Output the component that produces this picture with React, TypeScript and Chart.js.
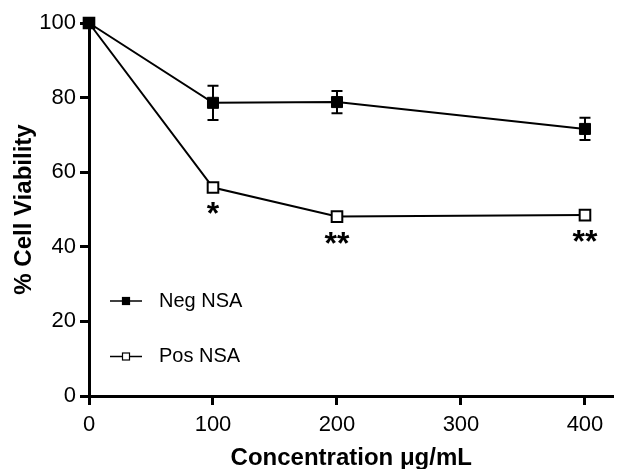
import React, { useEffect, useRef } from 'react';
import { Chart, registerables } from 'chart.js';

Chart.register(...registerables);

const concentrations = [0, 100, 200, 400];
const negLabel = 'Neg NSA';
const posLabel = 'Pos NSA';
const negValues = [100, 78.6, 78.8, 71.6];
const negErrors = [0, 4.6, 3.0, 3.0];
const posValues = [100, 55.9, 48.1, 48.5];
const posErrors = [0, 0, 0, 0];
const posSignificance = ['', '*', '**', '**'];
const xTicks = [0, 100, 200, 300, 400];
const yTicks = [0, 20, 40, 60, 80, 100];
const xTitle = 'Concentration \u03bcg/mL';
const yTitle = '% Cell Viability';

const FONT = "'Liberation Sans', Arial, sans-serif";

const errorBarPlugin = {
  id: 'errorBars',
  afterDatasetsDraw(chart: any) {
    const ctx = chart.ctx;
    const ys = chart.scales.y;
    chart.data.datasets.forEach((ds: any, i: number) => {
      const meta = chart.getDatasetMeta(i);
      const errs: number[] = ds.errors || [];
      meta.data.forEach((pt: any, j: number) => {
        const e = errs[j];
        if (!e) return;
        const v = ds.data[j].y;
        const top = ys.getPixelForValue(v + e);
        const bot = ys.getPixelForValue(v - e);
        const x = pt.x;
        ctx.save();
        ctx.strokeStyle = '#000';
        ctx.lineWidth = 2;
        ctx.beginPath();
        ctx.moveTo(x, top);
        ctx.lineTo(x, bot);
        ctx.moveTo(x - 5.5, top);
        ctx.lineTo(x + 5.5, top);
        ctx.moveTo(x - 5.5, bot);
        ctx.lineTo(x + 5.5, bot);
        ctx.stroke();
        ctx.restore();
      });
    });
  },
};

const significancePlugin = {
  id: 'significance',
  afterDatasetsDraw(chart: any) {
    const ctx = chart.ctx;
    const meta = chart.getDatasetMeta(1);
    ctx.save();
    ctx.fillStyle = '#000';
    ctx.font = `bold 32px ${FONT}`;
    ctx.textAlign = 'center';
    ctx.textBaseline = 'alphabetic';
    meta.data.forEach((pt: any, j: number) => {
      const s = posSignificance[j];
      if (!s) return;
      const m = ctx.measureText(s);
      const asc = m.actualBoundingBoxAscent;
      const desc = m.actualBoundingBoxDescent;
      const centerY = pt.y + 21;
      const baseline = centerY + (asc - desc) / 2;
      ctx.fillText(s, pt.x, baseline);
    });
    ctx.restore();
  },
};

const legendPlugin = {
  id: 'insideLegend',
  afterDraw(chart: any) {
    const ctx = chart.ctx;
    const area = chart.chartArea;
    const x0 = area.left + 21;
    const entries = chart.data.datasets.map((ds: any, i: number) => ({
      label: ds.label,
      fill: ds.pointBackgroundColor,
      y: area.top + 278 + i * 55.5,
    }));
    ctx.save();
    entries.forEach((en: any) => {
      ctx.strokeStyle = '#000';
      ctx.lineWidth = 1.5;
      ctx.beginPath();
      ctx.moveTo(x0, en.y);
      ctx.lineTo(x0 + 32, en.y);
      ctx.stroke();
      const s = 7;
      ctx.fillStyle = en.fill;
      ctx.fillRect(x0 + 16 - s / 2, en.y - s / 2, s, s);
      ctx.lineWidth = 1.2;
      ctx.strokeRect(x0 + 16 - s / 2, en.y - s / 2, s, s);
      ctx.fillStyle = '#000';
      ctx.font = `20px ${FONT}`;
      ctx.textAlign = 'left';
      ctx.textBaseline = 'middle';
      ctx.fillText(en.label, x0 + 49, en.y);
    });
    ctx.restore();
  },
};

export default function App() {
  const ref = useRef<HTMLCanvasElement | null>(null);
  useEffect(() => {
    if (!ref.current) return;
    const chart = new Chart(ref.current, {
      type: 'line',
      data: {
        datasets: [
          {
            label: negLabel,
            data: concentrations.map((c, i) => ({ x: c, y: negValues[i] })),
            errors: negErrors,
            borderColor: '#000',
            borderWidth: 2,
            pointStyle: 'rect',
            pointRadius: 7.8,
            pointBackgroundColor: '#000',
            pointBorderColor: '#000',
            pointBorderWidth: 1,
            clip: false,
            tension: 0,
          } as any,
          {
            label: posLabel,
            data: concentrations.map((c, i) => ({ x: c, y: posValues[i] })),
            errors: posErrors,
            borderColor: '#000',
            borderWidth: 2,
            pointStyle: 'rect',
            pointRadius: 7.5,
            pointBackgroundColor: '#fff',
            pointBorderColor: '#000',
            pointBorderWidth: 2,
            clip: false,
            tension: 0,
          } as any,
        ],
      },
      options: {
        responsive: false,
        animation: false,
        layout: { padding: { top: 23, right: 5, left: 0, bottom: 0 } },
        plugins: {
          legend: { display: false },
          tooltip: { enabled: false },
        },
        scales: {
          x: {
            type: 'linear',
            position: 'bottom',
            min: 0,
            max: 423,
            afterBuildTicks: (s: any) => {
              s.ticks = xTicks.map((v) => ({ value: v }));
            },
            afterFit: (s: any) => {
              s.height = 73;
            },
            ticks: {
              color: '#000',
              font: { family: FONT, size: 22 },
              padding: 7,
              maxRotation: 0,
              autoSkip: false,
            },
            grid: {
              display: true,
              drawOnChartArea: false,
              drawTicks: true,
              tickLength: 9,
              tickWidth: 3,
              tickColor: '#000',
              color: '#000',
            },
            border: { display: true, width: 3, color: '#000' },
            title: {
              display: true,
              text: xTitle,
              color: '#000',
              font: { family: FONT, size: 24, weight: 'bold' },
              padding: { top: 0, bottom: -4 },
            },
          },
          y: {
            type: 'linear',
            min: 0,
            max: 100,
            afterBuildTicks: (s: any) => {
              s.ticks = yTicks.map((v) => ({ value: v }));
            },
            afterFit: (s: any) => {
              s.width = 89;
            },
            ticks: {
              color: '#000',
              font: { family: FONT, size: 22 },
              padding: 4,
              autoSkip: false,
            },
            grid: {
              display: true,
              drawOnChartArea: false,
              drawTicks: true,
              tickLength: 9,
              tickWidth: 3,
              tickColor: '#000',
              color: '#000',
            },
            border: { display: true, width: 3, color: '#000' },
            title: {
              display: true,
              text: yTitle,
              color: '#000',
              font: { family: FONT, size: 24, weight: 'bold' },
              padding: { top: 10, bottom: 0 },
            },
          },
        },
      } as any,
      plugins: [errorBarPlugin, significancePlugin, legendPlugin],
    });
    return () => chart.destroy();
  }, []);
  return (
    <div style={{ position: 'fixed', left: 0, top: 0, width: 623, height: 469, background: '#fff' }}>
      <canvas ref={ref} width={623} height={469} style={{ width: 623, height: 469, display: 'block' }} />
    </div>
  );
}
